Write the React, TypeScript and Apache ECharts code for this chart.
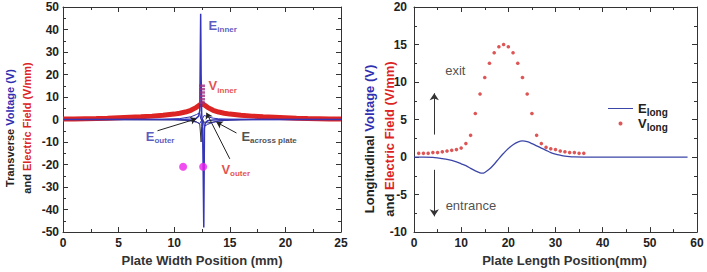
import React, { useEffect, useRef } from "react";
import * as echarts from "echarts";

// ---------- Left chart (transverse) ----------
const vTransX = [0, 1, 2, 3, 4, 5, 6, 7, 8, 9, 10, 10.5, 11, 11.5, 12, 12.25, 12.5, 12.75, 13, 13.5, 14, 14.5, 15, 16, 17, 18, 19, 20, 21, 22, 23, 24, 25];
const vTransY = [0.2, 0.25, 0.35, 0.45, 0.6, 0.8, 1.0, 1.2, 1.5, 1.9, 2.4, 2.8, 3.3, 4.1, 5.4, 6.3, 7.2, 6.3, 5.4, 4.1, 3.3, 2.8, 2.4, 1.9, 1.5, 1.2, 1.0, 0.8, 0.6, 0.45, 0.35, 0.25, 0.2];

const eInnerX = [0, 10, 11, 11.5, 12, 12.2, 12.3, 12.38, 12.42, 12.47, 12.5, 12.55, 12.6, 12.66, 12.72, 12.8, 13, 13.5, 14, 15, 25];
const eInnerY = [0, 0, 0.1, 0.2, 0.6, 1.5, 4, 47, 20, 3, 0, -3, -20, -48, -4, -1.5, -0.6, -0.2, -0.1, 0, 0];

const eOuterUpX = [0, 9, 10.5, 11.5, 12, 12.3, 12.4, 12.6, 12.7, 13, 13.5, 14.5, 16, 25];
const eOuterUpY = [0, 0.1, 0.4, 1.2, 2.2, 3.0, 0, 0, -3.0, -2.2, -1.2, -0.4, -0.1, 0];

const eOuterLowX = [0, 10, 11, 11.5, 12, 12.3, 12.7, 13, 13.5, 14, 15, 25];
const eOuterLowY = [0, -0.1, -0.3, -0.6, -1.2, -1.8, 1.8, 1.2, 0.6, 0.3, 0.1, 0];

const eAcrossX = [0, 10, 11.5, 12, 12.3, 12.42, 12.47, 12.52, 12.6, 13, 13.5, 14, 15, 17, 25];
const eAcrossY = [0, -0.1, -0.5, -1, -2, -10, -3, 0, -1, -1.5, -1.2, -0.6, -0.2, 0, 0];

const vInnerX = [12.5, 12.5, 12.5, 12.5, 12.5, 12.5];
const vInnerY = [7.5, 9, 10.5, 12, 13.5, 15];

const vOuterX = [10.8, 12.6];
const vOuterY = [-21, -21];

// ---------- Right chart (longitudinal) ----------
const eLongX = [0, 2, 4, 5, 6, 7, 8, 9, 10, 11, 12, 13, 14, 14.5, 15, 16, 17, 18, 19, 20, 21, 22, 23, 24, 25, 26, 27, 28, 29, 30, 31, 32, 33, 34, 36, 40, 50, 58];
const eLongY = [0, 0, -0.03, -0.1, -0.2, -0.3, -0.45, -0.65, -0.9, -1.15, -1.5, -1.85, -2.1, -2.15, -2.05, -1.6, -0.95, -0.2, 0.5, 1.15, 1.65, 2.0, 2.15, 2.05, 1.8, 1.5, 1.2, 0.9, 0.6, 0.4, 0.25, 0.12, 0.05, 0.02, 0, 0, 0, 0];

const vLongX = [1, 2, 3, 4, 5, 6, 7, 8, 9, 10, 11, 12, 13, 14, 15, 16, 17, 18, 19, 20, 21, 22, 23, 24, 25, 26, 27, 28, 29, 30, 31, 32, 33, 34, 35, 36];
const vLongY = [0.5, 0.5, 0.5, 0.6, 0.6, 0.7, 0.8, 0.9, 1.0, 1.2, 1.8, 2.9, 5.8, 8.4, 10.6, 12.5, 13.9, 14.7, 15.0, 14.7, 13.9, 12.5, 10.6, 8.4, 5.8, 2.9, 1.8, 1.3, 1.1, 1.0, 0.8, 0.7, 0.6, 0.6, 0.5, 0.5];

// axis ranges [min, max, interval]
const leftXRange = [0, 25, 5];
const leftYRange = [-50, 50, 10];
const rightXRange = [0, 60, 10];
const rightYRange = [-10, 20, 5];

const FONT = "'Liberation Sans', Arial, sans-serif";
const BLUE = "#2f2fb0";
const RED = "#dd2424";
const DARK = "#222";
const CLEAR = "rgba(0,0,0,0)";

const zip = (xs: number[], ys: number[]) => xs.map((x, i) => [x, ys[i]]);

function sub(main: string, s: string, color: string, mainSize = 13, subSize = 8) {
  return {
    text: `{m|${main}}{s|${s}}`,
    rich: {
      m: { fontSize: mainSize, fontWeight: "bold", color, fontFamily: FONT },
      s: { fontSize: subSize, fontWeight: "bold", color, fontFamily: FONT, padding: [9, 0, 0, 0] },
    },
  };
}

function annotation(x: number, y: number, main: string, s: string, color: string) {
  const t = sub(main, s, color);
  return {
    value: [x, y],
    label: {
      show: true,
      position: "right",
      distance: 0,
      formatter: t.text,
      rich: t.rich,
    },
  };
}

function plainNote(x: number, y: number, text: string) {
  return {
    value: [x, y],
    label: {
      show: true,
      position: "right",
      distance: 0,
      formatter: text,
      fontSize: 13,
      color: DARK,
      fontFamily: FONT,
    },
  };
}

function axisPair(range: number[], gridIndex: number, isX: boolean, margin: number) {
  const [min, max, interval] = range;
  const base = {
    type: "value",
    gridIndex,
    min,
    max,
    interval,
    splitLine: { show: false },
    axisLine: { show: true, onZero: false, lineStyle: { color: "#333", width: 1 } },
    axisTick: { show: true, inside: true, length: 5, lineStyle: { color: "#333" } },
    minorTick: { show: true, splitNumber: 2, length: 3, lineStyle: { color: "#333" } },
  };
  const main = {
    ...base,
    position: isX ? "bottom" : "left",
    axisLabel: { show: true, margin, fontSize: 12, fontWeight: "bold", color: DARK, fontFamily: FONT },
  };
  const second = {
    ...base,
    position: isX ? "top" : "right",
    axisLabel: { show: false },
  };
  return [main, second];
}

export default function App() {
  const ref = useRef<HTMLDivElement>(null);
  useEffect(() => {
    document.body.style.margin = "0";
    if (!ref.current) return;
    const chart = echarts.init(ref.current, undefined, { renderer: "svg" });

    const [lx0, lx1] = axisPair(leftXRange, 0, true, 5);
    const [ly0, ly1] = axisPair(leftYRange, 0, false, 4);
    const [rx0, rx1] = axisPair(rightXRange, 1, true, 5);
    const [ry0, ry1] = axisPair(rightYRange, 1, false, 7);

    const titleStyle = { fontSize: 13, fontWeight: "bold", color: "#333", fontFamily: FONT };

    const yTitleRich = (first: string, lh: number, size: number) => ({
      text: `{k|${first} }{b|Voltage (V)}\n{k|and }{r|Electric Field (V/mm)}`,
      rich: {
        k: { fontSize: size, fontWeight: "bold", fill: DARK, fontFamily: FONT, lineHeight: lh },
        b: { fontSize: size, fontWeight: "bold", fill: BLUE, fontFamily: FONT, lineHeight: lh },
        r: { fontSize: size, fontWeight: "bold", fill: RED, fontFamily: FONT, lineHeight: lh },
      },
    });

    const lt = yTitleRich("Transverse", 17, 11);
    const rt = yTitleRich("Longitudinal", 20, 13);

    const option: any = {
      animation: false,
      backgroundColor: "#fff",
      grid: [
        { left: 63, top: 7, width: 278, height: 225 },
        { left: 414, top: 7, width: 283, height: 229 },
      ],
      xAxis: [
        { ...lx0, name: "Plate Width Position (mm)", nameLocation: "middle", nameGap: 19, nameTextStyle: titleStyle },
        lx1,
        { ...rx0, name: "Plate Length Position(mm)", nameLocation: "middle", nameGap: 20, nameTextStyle: { ...titleStyle, padding: [0, 0, 0, 18] } },
        rx1,
      ],
      yAxis: [ly0, ly1, ry0, ry1],
      legend: {
        show: true,
        orient: "vertical",
        left: 603,
        top: 97,
        itemWidth: 25,
        itemHeight: 4,
        itemGap: 0,
        data: [
          { name: "Elong", icon: "path://M0,0 L25,0 L25,1 L0,1 Z" },
          { name: "Vlong", icon: "circle" },
        ],
        formatter: (name: string) => (name === "Elong" ? "{m|E}{s|long}" : "{m|V}{s|long}"),
        textStyle: {
          rich: {
            m: { fontSize: 13, fontWeight: "bold", color: DARK, fontFamily: FONT },
            s: { fontSize: 10, fontWeight: "bold", color: DARK, fontFamily: FONT, padding: [7, 0, 0, 0] },
          },
        },
      },
      graphic: [
        {
          type: "text",
          x: 18,
          y: 128,
          rotation: Math.PI / 2,
          style: { ...lt, align: "center", verticalAlign: "middle" },
        },
        {
          type: "text",
          x: 379,
          y: 139,
          rotation: Math.PI / 2,
          style: { ...rt, align: "center", verticalAlign: "middle" },
        },
      ],
      series: [
        {
          name: "Vtrans",
          type: "line",
          xAxisIndex: 0,
          yAxisIndex: 0,
          data: zip(vTransX, vTransY),
          symbol: "none",
          lineStyle: { color: RED, width: 5 },
          z: 2,
        },
        {
          name: "Eacross",
          type: "line",
          xAxisIndex: 0,
          yAxisIndex: 0,
          data: zip(eAcrossX, eAcrossY),
          symbol: "none",
          lineStyle: { color: "#333", width: 1 },
          z: 3,
        },
        {
          name: "EouterUp",
          type: "line",
          xAxisIndex: 0,
          yAxisIndex: 0,
          data: zip(eOuterUpX, eOuterUpY),
          symbol: "none",
          lineStyle: { color: BLUE, width: 1 },
          z: 3,
        },
        {
          name: "EouterLow",
          type: "line",
          xAxisIndex: 0,
          yAxisIndex: 0,
          data: zip(eOuterLowX, eOuterLowY),
          symbol: "none",
          lineStyle: { color: BLUE, width: 1 },
          z: 3,
        },
        {
          name: "Einner",
          type: "line",
          xAxisIndex: 0,
          yAxisIndex: 0,
          data: zip(eInnerX, eInnerY),
          symbol: "none",
          lineStyle: { color: "#3535b8", width: 1.5 },
          z: 4,
        },
        {
          name: "Vinner",
          type: "scatter",
          xAxisIndex: 0,
          yAxisIndex: 0,
          data: zip(vInnerX, vInnerY),
          symbol: "rect",
          symbolSize: [6, 2.5],
          itemStyle: { color: "#a0307f" },
          z: 5,
        },
        {
          name: "Vouter",
          type: "scatter",
          xAxisIndex: 0,
          yAxisIndex: 0,
          data: zip(vOuterX, vOuterY),
          symbol: "circle",
          symbolSize: 8,
          itemStyle: { color: "#ee22ee" },
          z: 5,
        },
        {
          name: "leftNotes",
          type: "scatter",
          xAxisIndex: 0,
          yAxisIndex: 0,
          symbolSize: 1,
          itemStyle: { color: CLEAR },
          data: [
            annotation(13.05, 42, "E", "inner", BLUE),
            annotation(13.05, 15, "V", "inner", RED),
            annotation(7.4, -7.5, "E", "outer", BLUE),
            annotation(16.0, -7.5, "E", "across plate", "#222"),
            annotation(14.2, -22, "V", "outer", RED),
          ],
          markLine: {
            silent: true,
            symbol: ["none", "arrow"],
            symbolSize: 6,
            lineStyle: { color: "#222", width: 1, type: "solid" },
            label: { show: false },
            data: [
              [{ coord: [8.5, -5] }, { coord: [12.0, 0.3] }],
              [{ coord: [15.6, -6] }, { coord: [13.8, -1.2] }],
              [{ coord: [15.0, -17.5] }, { coord: [12.9, 3] }],
            ],
          },
          z: 6,
        },
        {
          name: "Elong",
          type: "line",
          xAxisIndex: 2,
          yAxisIndex: 2,
          data: zip(eLongX, eLongY),
          symbol: "none",
          smooth: 0.3,
          lineStyle: { color: "#3c46a8", width: 1.3 },
          itemStyle: { color: "#3c46a8" },
        },
        {
          name: "Vlong",
          type: "scatter",
          xAxisIndex: 2,
          yAxisIndex: 2,
          data: zip(vLongX, vLongY),
          symbol: "circle",
          symbolSize: 3.6,
          itemStyle: { color: "#d42a2a" },
        },
        {
          name: "rightNotes",
          type: "scatter",
          xAxisIndex: 2,
          yAxisIndex: 2,
          symbolSize: 1,
          itemStyle: { color: CLEAR },
          data: [plainNote(6.5, 11.5, "exit"), plainNote(6.6, -6.5, "entrance")],
          markLine: {
            silent: true,
            symbol: ["none", "arrow"],
            symbolSize: 7,
            lineStyle: { color: "#333", width: 1, type: "solid" },
            label: { show: false },
            data: [
              [{ coord: [4.3, 3.0] }, { coord: [4.3, 8.5] }],
              [{ coord: [4.3, -1.7] }, { coord: [4.3, -7.9] }],
            ],
          },
        },
      ],
    };

    chart.setOption(option);
    return () => chart.dispose();
  }, []);
  return <div ref={ref} style={{ width: 707, height: 272 }} />;
}
